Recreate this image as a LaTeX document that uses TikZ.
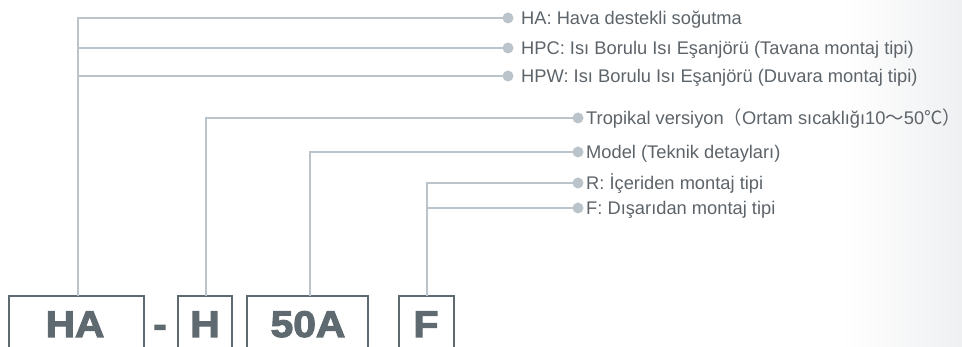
\documentclass[tikz,border=0pt]{standalone}
\usepackage{fontspec}
\setmainfont{Liberation Sans}
\newfontfamily\cjkf{Noto Sans CJK SC}
\newfontfamily\codefont[FakeStretch=1.1,FakeBold=3]{Liberation Sans Bold}
\definecolor{conn}{RGB}{188,196,203}
\definecolor{txt}{RGB}{92,99,105}
\definecolor{boxc}{RGB}{95,106,112}
\definecolor{bgr}{RGB}{239,240,242}
\begin{document}
\begin{tikzpicture}[x=1pt,y=-1pt,
  conline/.style={draw=conn,line width=2pt},
  dotc/.style={circle,fill=conn,inner sep=0pt,minimum size=11pt},
  lbl/.style={anchor=base west,inner sep=0pt,text=txt,font=\fontsize{18.3}{20}\selectfont},
  codebox/.style={draw=boxc,line width=2pt},
  code/.style={anchor=base,inner sep=0pt,text=boxc,font=\fontsize{37}{40}\codefont}]
\useasboundingbox (0,0) rectangle (962,347);
\clip (0,0) rectangle (962,347);
\shade[left color=white,right color=bgr] (840,0) rectangle (962,347);
% code boxes
\draw[codebox] (9,360) |- (144,296) -- (144,360);
\draw[codebox] (178,360) |- (232,296) -- (232,360);
\draw[codebox] (247,360) |- (368,296) -- (368,360);
\draw[codebox] (399,360) |- (454,296) -- (454,360);
\coordinate (bHA) at (78,296);
\coordinate (bH) at (206,296);
\coordinate (b50) at (310,296);
\coordinate (bF) at (427,296);
\node[code] (tHA) at (75,337) {HA};
\node[code] (tdash) at (160,337) {-};
\node[code] (tH) at (205,337) {H};
\node[code] (t50) at (308,337) {50A};
\node[code] (tF) at (426,337) {F};
% dots
\node[dotc] (d1) at (508,18) {};
\node[dotc] (d2) at (508,48) {};
\node[dotc] (d3) at (508,76) {};
\node[dotc] (d4) at (578,118) {};
\node[dotc] (d5) at (578,152) {};
\node[dotc] (d6) at (578,183) {};
\node[dotc] (d7) at (578,208) {};
% connectors
\draw[conline] (bHA) |- (d1.center);
\draw[conline] (78,48) -- (d2.center);
\draw[conline] (78,76) -- (d3.center);
\draw[conline] (bH) |- (d4.center);
\draw[conline] (b50) |- (d5.center);
\draw[conline] (bF) |- (d6.center);
\draw[conline] (427,208) -- (d7.center);
% labels
\node[lbl] (l1) at (521,24.5) {HA: Hava destekli soğutma};
\node[lbl] (l2) at (521,54.5) {HPC: Isı Borulu Isı Eşanjörü (Tavana montaj tipi)};
\node[lbl] (l3) at (521,82.5) {HPW: Isı Borulu Isı Eşanjörü (Duvara montaj tipi)};
\node[lbl] (l4) at (586,124.5) {Tropikal versiyon{\cjkf （}Ortam sıcaklığı10{\cjkf ～}50{\cjkf ℃）}};
\node[lbl] (l5) at (586,158.5) {Model (Teknik detayları)};
\node[lbl] (l6) at (586,189.5) {R: İçeriden montaj tipi};
\node[lbl] (l7) at (586,214.5) {F: Dışarıdan montaj tipi};
\end{tikzpicture}
\end{document}
